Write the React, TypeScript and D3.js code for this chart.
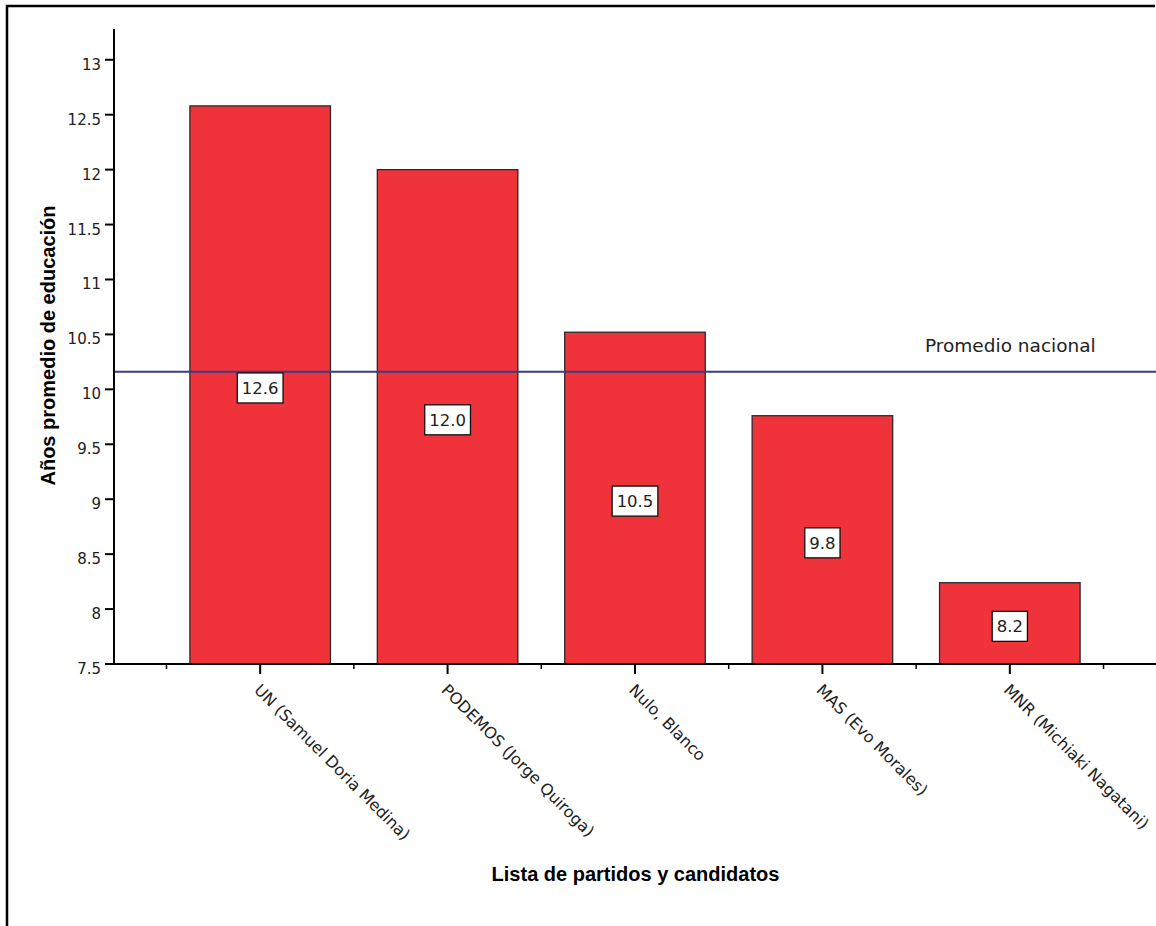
import React from "react";
import * as d3 from "d3";

// Parties / candidates and their mean years of schooling
const categories = [
  "UN (Samuel Doria Medina)",
  "PODEMOS (Jorge Quiroga)",
  "Nulo, Blanco",
  "MAS (Evo Morales)",
  "MNR (Michiaki Nagatani)",
];
const values = [12.58, 12.0, 10.52, 9.76, 8.24];
const nationalAverage = 10.16;
const nationalLabel = "Promedio nacional";
const yTicks = [7.5, 8, 8.5, 9, 9.5, 10, 10.5, 11, 11.5, 12, 12.5, 13];
const yTitle = "Años promedio de educación";
const xTitle = "Lista de partidos y candidatos";

const W = 1156;
const H = 926;
const BAR_FILL = "#f0323b";
const REF_COLOR = "#3b3b8c";
const TEXT = "#222";
const SANS = "'DejaVu Sans', Verdana, sans-serif";
const BOLD = "'Liberation Sans', Arial, sans-serif";

const fmt = d3.format(".1f");

// rough glyph advance widths (em) for the numeric value labels
function labelWidth(s: string, size: number) {
  let w = 0;
  for (const ch of s) w += ch === "." ? 0.318 : 0.636;
  return w * size;
}

export default function App() {
  const y = d3.scaleLinear().domain([7.5, 13.28]).range([664, 29]);
  const x = d3
    .scaleBand<string>()
    .domain(categories)
    .range([114, W])
    .paddingInner(0.25)
    .paddingOuter(0.405);
  const step = x.step();
  const bw = x.bandwidth();
  const base = y(7.5);
  const axisX = 114;
  const centers = categories.map((c) => (x(c) as number) + bw / 2);
  const bounds = [...centers.map((c) => c - step / 2), centers[centers.length - 1] + step / 2];

  const valFont = 16.5;

  return (
    <svg
      width={W}
      height={H}
      style={{ position: "absolute", left: 0, top: 0, background: "#fff" }}
    >
      <rect x={0} y={0} width={W} height={H} fill="#fff" />
      {/* outer frame */}
      <path d={`M7,${H} V6 H1155`} fill="none" stroke="#000" strokeWidth={2.5} />

      {/* bars */}
      {categories.map((c, i) => (
        <rect
          key={c}
          x={x(c)}
          y={y(values[i])}
          width={bw}
          height={base - y(values[i])}
          fill={BAR_FILL}
          stroke="#2a2a2a"
          strokeWidth={1.3}
        />
      ))}

      {/* national average reference line */}
      <line
        x1={axisX}
        x2={W}
        y1={y(nationalAverage)}
        y2={y(nationalAverage)}
        stroke={REF_COLOR}
        strokeWidth={1.8}
      />
      <text
        x={925}
        y={y(nationalAverage) - 20}
        fontFamily={SANS}
        fontSize={18.5}
        fill={TEXT}
      >
        {nationalLabel}
      </text>

      {/* value labels */}
      {categories.map((c, i) => {
        const label = fmt(values[i]);
        const cy = (y(values[i]) + base) / 2 + 3;
        const w = labelWidth(label, valFont) + 9;
        const cx = centers[i];
        return (
          <g key={"v" + c}>
            <rect
              x={cx - w / 2}
              y={cy - 15}
              width={w}
              height={30}
              fill="#fff"
              stroke="#111"
              strokeWidth={1.3}
            />
            <text
              x={cx}
              y={cy + 6}
              textAnchor="middle"
              fontFamily={SANS}
              fontSize={valFont}
              fill={TEXT}
            >
              {label}
            </text>
          </g>
        );
      })}

      {/* y axis */}
      <line x1={axisX} x2={axisX} y1={y.range()[1]} y2={base} stroke="#000" strokeWidth={2} />
      {yTicks.map((t) => (
        <g key={"yt" + t}>
          <line x1={axisX - 9} x2={axisX} y1={y(t)} y2={y(t)} stroke="#000" strokeWidth={2} />
          <text
            x={101}
            y={y(t) + 10}
            textAnchor="end"
            fontFamily={SANS}
            fontSize={15}
            fill={TEXT}
          >
            {String(t)}
          </text>
        </g>
      ))}

      {/* x axis */}
      <line x1={axisX - 9} x2={W} y1={base} y2={base} stroke="#000" strokeWidth={2} />
      {centers.map((cx, i) => (
        <line key={"xt" + i} x1={cx} x2={cx} y1={base} y2={base + 10} stroke="#000" strokeWidth={2} />
      ))}
      {bounds.map((bx, i) => (
        <line key={"xb" + i} x1={bx} x2={bx} y1={base} y2={base + 5} stroke="#000" strokeWidth={1.5} />
      ))}
      {categories.map((c, i) => (
        <text
          key={"xl" + c}
          transform={`translate(${centers[i] - 7},${base + 27}) rotate(45)`}
          fontFamily={SANS}
          fontSize={16}
          fill={TEXT}
        >
          {c}
        </text>
      ))}

      {/* axis titles */}
      <text
        transform={`translate(55,345.5) rotate(-90)`}
        textAnchor="middle"
        fontFamily={BOLD}
        fontWeight="bold"
        fontSize={20}
        fill="#000"
      >
        {yTitle}
      </text>
      <text
        x={635.5}
        y={881}
        textAnchor="middle"
        fontFamily={BOLD}
        fontWeight="bold"
        fontSize={20}
        fill="#000"
      >
        {xTitle}
      </text>
    </svg>
  );
}
